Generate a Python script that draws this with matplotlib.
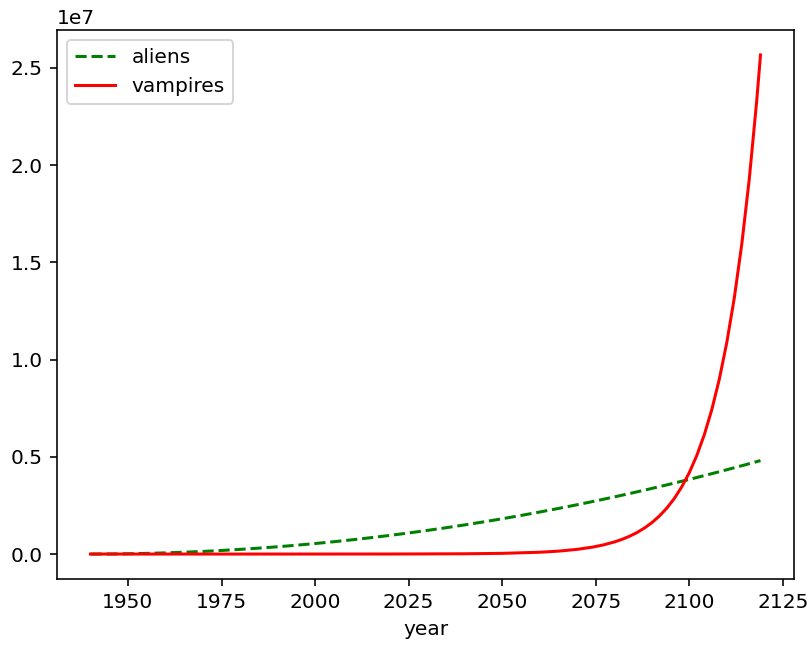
import matplotlib
matplotlib.use('Agg')
import matplotlib.pyplot as plt

# values
alien_years = [1940, 1945, 1950, 1955, 1960, 1965, 1970, 1975, 1980, 1985,
               1990, 1995, 2000, 2005, 2010, 2015, 2020, 2025, 2030, 2035,
               2040, 2045, 2050, 2055, 2060, 2065, 2070, 2075, 2080, 2085,
               2090, 2095, 2100, 2105, 2110, 2115, 2119]
aliens = [0, 3750, 15000, 33750, 60000, 93750, 135000, 183750, 240000, 303750,
          375000, 453750, 540000, 633750, 735000, 843750, 960000, 1083750, 1215000, 1353750,
          1500000, 1653750, 1815000, 1983750, 2160000, 2343750, 2535000, 2733750, 2940000, 3153750,
          3375000, 3603750, 3840000, 4083750, 4335000, 4593750, 4806000]

vamp_years = [1940, 1960, 1980, 2000, 2020, 2040, 2050, 2060, 2065, 2070,
              2074, 2077, 2080, 2082, 2084, 2086, 2088, 2090, 2092, 2094,
              2096, 2098, 2100, 2102, 2104, 2106, 2108, 2110, 2112, 2114,
              2116, 2118, 2119]
vampires = [1, 7, 45, 304, 2048, 13781, 35743, 92709, 149308, 240454,
            352000, 468600, 623700, 754700, 913100, 1104800, 1336900, 1617700, 1957400, 2368500,
            2866000, 3467800, 4195900, 5077000, 6143300, 7433400, 8994500, 10883000, 13169000, 15935000,
            19281000, 23330000, 25664000]

dpi = 145
fig = plt.figure(figsize=(811 / dpi, 645 / dpi), dpi=dpi)
ax = fig.add_axes([57 / 811, 1 - 579 / 645, (794 - 57) / 811, (579 - 30) / 645])

ax.plot(alien_years, aliens, 'g--', label='aliens')
ax.plot(vamp_years, vampires, 'r-', label='vampires')
ax.set_xlabel('year')
ax.legend(loc='upper left')

fig.savefig('out.png', dpi=dpi)
